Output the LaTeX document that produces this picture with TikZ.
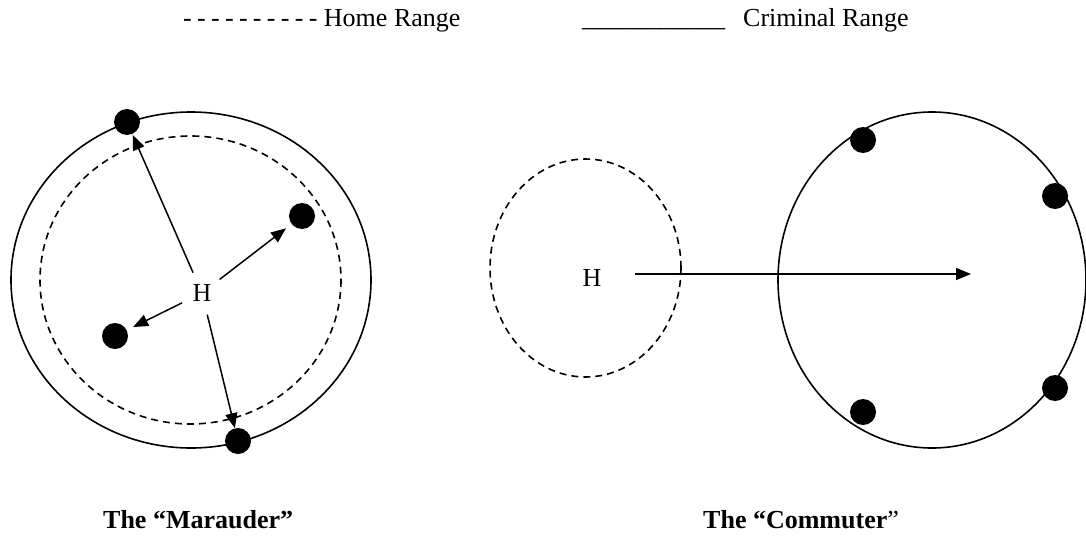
\documentclass[tikz,border=0pt]{standalone}
\usepackage{fontspec}
\setmainfont{Liberation Serif}
\usetikzlibrary{arrows.meta}
\newcommand\myhy{-\hspace{5.3pt}}
\tikzset{
  rng/.style={line width=1.6pt},
  homerng/.style={line width=1.6pt, dash pattern=on 7pt off 5pt},
  dot/.style={circle, fill=black, minimum size=26pt, inner sep=0pt},
  arr/.style={line width=1.5pt, -{Triangle[length=15pt,width=12pt]}},
  hnode/.style={circle, inner sep=0pt, minimum size=44pt, font=\fontsize{26}{31}\selectfont},
  txt/.style={anchor=base west, inner sep=0pt, font=\fontsize{26}{31}\selectfont},
}
\begin{document}
\begin{tikzpicture}[x=1pt,y=-1pt]
\path[use as bounding box] (0,0) rectangle (1086,535);

% legend
\node[txt] (legHome) at (183,27) {\myhy\myhy\myhy\myhy\myhy\myhy\myhy\myhy\myhy- Home Range};
\node[txt] (legLine) at (582,27) {\_\_\_\_\_\_\_\_\_\_\_};
\node[txt] (legCrim) at (743,27) {Criminal Range};

% Marauder
\draw[rng] (191,280) ellipse [x radius=180, y radius=168];
\draw[homerng] (190.5,280) ellipse [x radius=150.5, y radius=144];
\node[hnode] (hM) at (202,293) {H};
\node[dot] (m1) at (127,122) {};
\node[dot] (m2) at (302,216) {};
\node[dot] (m3) at (115,336) {};
\node[dot] (m4) at (238,441) {};
\draw[arr, shorten >=1pt] (hM) -- (m1);
\draw[arr, shorten >=7pt] (hM) -- (m2);
\draw[arr, shorten >=7pt] (hM) -- (m3);
\draw[arr, shorten >=0pt] (hM) -- (m4);

% Commuter
\draw[homerng] (585.5,268) ellipse [x radius=95.5, y radius=109];
\draw[rng] (932,280) ellipse [x radius=154, y radius=168];
\node[hnode] (hC) at (592,278) {H};
\coordinate (tipC) at (971,274);
\path (hC.east |- tipC) ++(21,0) coordinate (startC);
\draw[arr] (startC) -- (tipC);
\node[dot] (c1) at (863,140) {};
\node[dot] (c2) at (1055,196) {};
\node[dot] (c3) at (1055,388) {};
\node[dot] (c4) at (863,412) {};

% labels
\node[txt] (labM) at (103,528) {\textbf{The “Marauder”}};
\node[txt] (labC) at (703,528) {\textbf{The “Commuter}”};
\end{tikzpicture}
\end{document}
